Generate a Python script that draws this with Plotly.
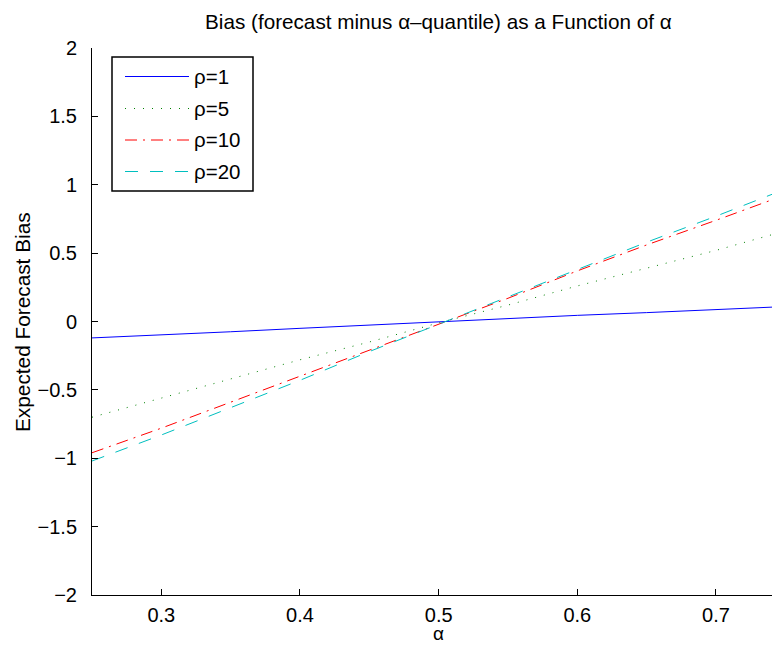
import plotly.graph_objects as go

# ---- data ----
alpha = [0.25, 0.30, 0.35, 0.40, 0.45, 0.50, 0.55, 0.60, 0.65, 0.70, 0.7404]
bias_rho1 = [-0.12, -0.10, -0.075, -0.05, -0.025, 0.0, 0.02, 0.045, 0.065, 0.09, 0.105]
bias_rho5 = [-0.70, -0.56, -0.42, -0.28, -0.15, -0.01, 0.12, 0.26, 0.39, 0.52, 0.635]
bias_rho10 = [-0.96, -0.78, -0.59, -0.40, -0.21, -0.02, 0.17, 0.37, 0.56, 0.74, 0.89]
bias_rho20 = [-1.02, -0.83, -0.63, -0.43, -0.22, -0.02, 0.18, 0.38, 0.58, 0.77, 0.93]
series_names = ["ρ=1", "ρ=5", "ρ=10", "ρ=20"]
x_ticks = [0.3, 0.4, 0.5, 0.6, 0.7]
y_ticks = [-2, -1.5, -1, -0.5, 0, 0.5, 1, 1.5, 2]

W, H = 772, 645
L, R, T, B = 92, 0, 48, 50
PW, PH = W - L - R, H - T - B

colors = ["#0000FF", "#008000", "#FF0000", "#00BFBF"]
dashes = ["solid", "1px,8px", "12px,6px,2px,6px", "13px,12px"]
FONT = "Liberation Sans, Arial, Helvetica, sans-serif"

fig = go.Figure()
for name, ys, c, d in zip(series_names, [bias_rho1, bias_rho5, bias_rho10, bias_rho20], colors, dashes):
    fig.add_trace(go.Scatter(x=alpha, y=ys, mode="lines", name=name,
                             line=dict(color=c, width=1, dash=d), showlegend=False))

def px(xp):
    return (xp - L) / PW

def py(yp):
    return (H - B - yp) / PH

# manual legend (MATLAB style)
shapes = [dict(type="rect", xref="paper", yref="paper",
               x0=px(112), x1=px(253), y0=py(191), y1=py(57),
               line=dict(color="black", width=1.5), fillcolor="white", layer="above")]
annotations = []
ys_leg = [76.5, 108.5, 140, 171.5]
for name, c, d, yy in zip(series_names, colors, dashes, ys_leg):
    shapes.append(dict(type="line", xref="paper", yref="paper",
                       x0=px(125), x1=px(189), y0=py(yy), y1=py(yy),
                       line=dict(color=c, width=1, dash=d), layer="above"))
    annotations.append(dict(text=name, xref="paper", yref="paper",
                            x=px(192), y=py(yy), xanchor="left", yanchor="middle",
                            showarrow=False, font=dict(size=20.5, color="black", family=FONT)))

# title and axis labels
annotations.append(dict(text="Bias (forecast minus α–quantile) as a Function of α",
                        xref="x", yref="paper", x=0.5, y=py(22), xanchor="center",
                        yanchor="middle", showarrow=False,
                        font=dict(size=20.7, color="black", family=FONT)))
annotations.append(dict(text="α", xref="x", yref="paper", x=0.5, y=py(633),
                        xanchor="center", yanchor="middle", showarrow=False, borderpad=0,
                        font=dict(size=19, color="black", family=FONT)))
annotations.append(dict(text="Expected Forecast Bias", xref="paper", yref="paper",
                        x=px(22), y=py(322), xanchor="center", yanchor="middle",
                        textangle=-90, showarrow=False,
                        font=dict(size=20.8, color="black", family=FONT)))

fig.update_layout(
    width=W, height=H,
    margin=dict(l=L, r=R, t=T, b=B, pad=0),
    paper_bgcolor="white", plot_bgcolor="white",
    font=dict(family=FONT, size=20, color="black"),
    shapes=shapes, annotations=annotations,
    showlegend=False,
)
fig.update_xaxes(range=[0.25, 0.7404], tickvals=x_ticks, ticktext=[f"{v:.1f}" for v in x_ticks],
                 showgrid=False, zeroline=False, showline=True, linecolor="black", linewidth=1,
                 ticks="inside", ticklen=6, tickcolor="black", tickwidth=1,
                 tickfont=dict(size=20), ticklabelstandoff=2, mirror=False)
fig.update_yaxes(range=[-2, 2], tickvals=y_ticks,
                 ticktext=[("−" if v < 0 else "") + (f"{abs(v):g}") for v in y_ticks],
                 showgrid=False, zeroline=False, showline=True, linecolor="black", linewidth=1,
                 ticks="inside", ticklen=6, tickcolor="black", tickwidth=1,
                 tickfont=dict(size=20), ticklabelstandoff=10, mirror=False)

fig.write_html("out.html", config={"displayModeBar": False},
               post_script="document.body.style.margin='0px';document.body.style.overflow='hidden';")
